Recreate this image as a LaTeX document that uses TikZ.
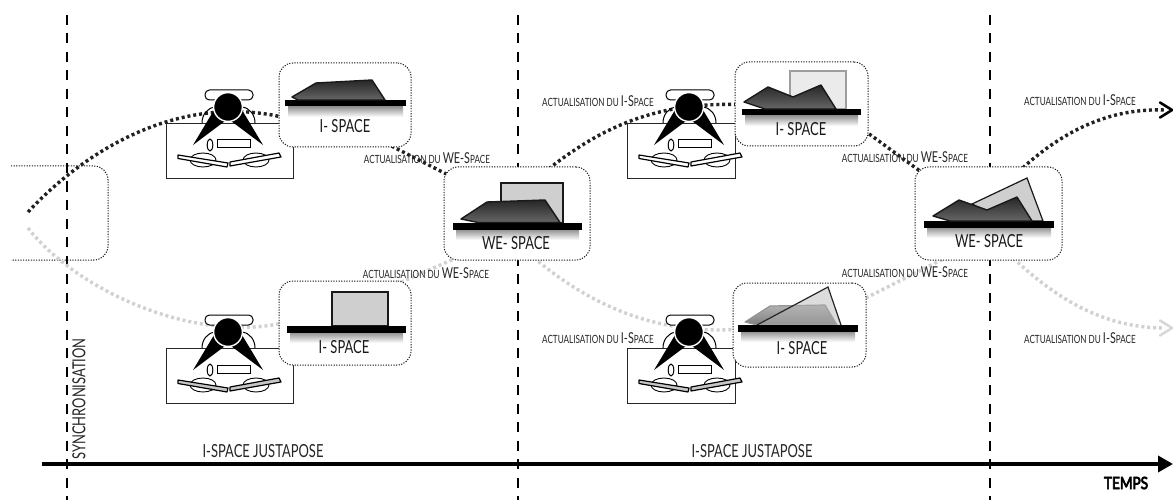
\documentclass[tikz,border=0pt]{standalone}
\usepackage{fontspec}
\setmainfont[FakeStretch=0.72]{Lato}
\newfontfamily\tempsfont[FakeStretch=0.8,FakeBold=4]{Lato}
\usetikzlibrary{arrows.meta,calc}
\definecolor{dotgray}{gray}{0.82}
\definecolor{dotdark}{gray}{0.13}
\tikzset{
  x=1pt,y=-1pt,
  card/.style={draw=black!90,fill=white,dash pattern=on 1.2pt off 1.4pt,line width=1pt,rounded corners=14pt,inner sep=0pt,outer sep=0pt},
  cardline/.style={draw=black!90,dash pattern=on 1.2pt off 1.4pt,line width=1pt},
  timeline/.style={draw=black,line width=1.6pt,dash pattern=on 10pt off 8.5pt},
  darkflow/.style={draw=dotdark,line width=3.4pt,dash pattern=on 3pt off 2.9pt},
  lightflow/.style={draw=dotgray,line width=3.4pt,dash pattern=on 3pt off 2.9pt},
  lab/.style={font=\fontsize{11.3}{11}\selectfont,text=black!85,inner sep=0pt},
  cardtitle/.style={font=\fontsize{18}{18}\selectfont,text=black!90,inner sep=0pt},
  axistext/.style={font=\fontsize{18}{18}\selectfont,text=black!85,inner sep=0pt},
  bar/.style={fill=black,draw=none},
  darkshape/.style={draw=black!90,line width=1.4pt,line join=round,top color=black!85,bottom color=black!60},
  fadeshape/.style={draw=black!42,line width=1.2pt,line join=round,top color=black!30,bottom color=black!50},
  frameback/.style={draw=black!90,line width=1.2pt,fill=black!19},
  ghostback/.style={draw=black!38,line width=1.1pt,fill=black!8},
  iconbox/.style={draw=black!85,line width=0.8pt,fill=none},
}
% person icon: #1 x, #2 y of top-left corner of its box, #3 width of box, #4 fill of the books
\newcommand{\personicon}[4]{%
 \begin{scope}[shift={(#1,#2)}]
  \draw[iconbox] (0,0) rectangle (#3,55);
  \draw[black,line width=1pt,fill=white,rounded corners=4.5pt] (39,-33) rectangle (87,-23);
  \draw[black,line width=1pt] (36,0) .. controls (36,-8) and (41,-15) .. (49,-16);
  \draw[black,line width=1pt] (89,0) .. controls (89,-8) and (84,-15) .. (76,-16);
  \fill[black] (48,-13) -- (27,22) -- (59,-2) -- cycle;
  \fill[black] (76,-13) -- (97,22) -- (65,-2) -- cycle;
  \draw[white,line width=1.4pt,fill=black] (62,-16) circle[radius=14.4];
  \draw[black,line width=1pt,fill=white] (51,17) rectangle (84,25);
  \draw[black,line width=1pt,fill=white] (44,22) ellipse[x radius=2.8,y radius=6];
  \draw[black,line width=0.9pt,fill=white] (37,37) ellipse[x radius=13,y radius=7];
  \draw[black,line width=0.9pt,fill=white] (90,37) ellipse[x radius=13,y radius=7];
  \draw[black,line width=1.2pt,fill=#4,line join=round] (12,32) -- (12,35.5) -- (61,44) -- (62,40) -- cycle;
  \draw[black,line width=1.2pt,fill=#4,line join=round] (115,34) -- (113,30) -- (64,39) -- (64,43) -- cycle;
 \end{scope}}
% base bar with a soft shadow: #1 left, #2 right, #3 top
\newcommand{\basebar}[3]{%
  \shade[top color=black!45,bottom color=white] (#1+3,#3+6) rectangle (#2-3,#3+17);
  \fill[bar] (#1,#3) rectangle (#2,#3+6.5);}
\begin{document}
\begin{tikzpicture}
\useasboundingbox (0,0) rectangle (1173,500);
\fill[white] (0,0) rectangle (1173,500);

% time lines
\coordinate (t1a) at (67,15); \coordinate (t1b) at (67,500);
\coordinate (t2a) at (518,15); \coordinate (t2b) at (518,500);
\coordinate (t3a) at (990,15); \coordinate (t3b) at (990,500);
\draw[timeline] (t1a) -- (t1b);
\draw[timeline] (t2a) -- (t2b);
\draw[timeline] (t3a) -- (t3b);

% axis
\coordinate (axa) at (42,464); \coordinate (axb) at (1173,464);
\draw[black,line width=3.6pt,-{Triangle[length=15pt,width=16pt]}] (axa) -- (axb);

% partial card at the left
\draw[cardline,rounded corners=14pt] (11,166) -- (108,166) -- (108,260) -- (11,260);

% flows
\coordinate (startd) at (28,212);
\coordinate (startl) at (28,228);
\coordinate (c1) at (300,122);
\coordinate (c2) at (360,130);
\coordinate (w1) at (460,181);
\coordinate (w2) at (535,180);
\coordinate (c3) at (750,105);
\coordinate (c4) at (850,120);
\coordinate (w3) at (935,182);
\coordinate (w4) at (1010,180);
\coordinate (endd) at (1165,110);
\coordinate (l1) at (300,318);
\coordinate (l2) at (390,287);
\coordinate (lw1) at (470,252);
\coordinate (lw2) at (525,250);
\coordinate (l3) at (750,328);
\coordinate (l4) at (850,306);
\coordinate (lw3) at (945,258);
\coordinate (lw4) at (1005,250);
\coordinate (endl) at (1165,328);

\draw[darkflow] (startd) .. controls (100,135) and (200,90) .. (c1);
\draw[darkflow] (c2) -- (w1);
\draw[darkflow] (w2) .. controls (600,125) and (660,100) .. (c3);
\draw[darkflow] (c4) -- (w3);
\draw[darkflow] (w4) .. controls (1060,130) and (1110,108) .. (endd);
\draw[black,line width=2.6pt,line cap=round,line join=round] (1160,102.5) -- (1172,110) -- (1160,117.5);

\draw[lightflow] (startl) .. controls (80,295) and (210,350) .. (l1);
\draw[lightflow] (l2) -- (lw1);
\draw[lightflow] (lw2) .. controls (575,295) and (650,340) .. (l3);
\draw[lightflow] (l4) -- (lw3);
\draw[lightflow] (lw4) .. controls (1060,305) and (1110,328) .. (endl);
\draw[dotgray!85!white,line width=2.6pt,line cap=round,line join=round] (1160,320.5) -- (1172,328) -- (1160,335.5);

% persons
\personicon{166}{123}{127}{white}
\personicon{166}{348}{127}{black!22}
\personicon{627}{123}{108}{white}
\personicon{627}{348}{108}{black!22}

% cards
\node[card,minimum width=132pt,minimum height=84pt] (card1) at (345,105) {};
\node[card,minimum width=132pt,minimum height=84pt] (card2) at (345,323) {};
\node[card,minimum width=146pt,minimum height=93pt] (card3) at (517,213.5) {};
\node[card,minimum width=133pt,minimum height=84pt] (card4) at (801.5,104) {};
\node[card,minimum width=133pt,minimum height=84pt] (card5) at (799.5,325) {};
\node[card,minimum width=147pt,minimum height=93pt] (card6) at (988.5,213.5) {};

% card 1
\basebar{285}{406}{100}
\draw[darkshape] (292,97) -- (316,83) -- (372,80) -- (385,100) -- (298,100) -- cycle;
\node[cardtitle] (t1) at (345,126) {I- SPACE};
% card 2
\draw[frameback] (332,292) rectangle (388,326);
\basebar{287}{406}{326}
\node[cardtitle] (t2) at (344,347) {I- SPACE};
% card 3 : WE
\draw[frameback] (501,183) rectangle (563,223);
\basebar{453}{582}{223}
\draw[darkshape] (461,219) -- (487,202) -- (545,200) -- (560,222.5) -- (478,222.5) -- cycle;
\node[cardtitle] (t3) at (516,243) {WE- SPACE};
% card 4
\draw[ghostback] (790,71) rectangle (846,109);
\basebar{742}{861}{109}
\draw[darkshape] (744,102) -- (768,87) -- (793,97) -- (821,85) -- (836,109) -- (765,109) -- cycle;
\node[cardtitle] (t4) at (801,129) {I- SPACE};
% card 5
\draw[fadeshape] (745,322) -- (770,306) -- (825,305) -- (837,325) -- (757,325) -- cycle;
\draw[black!85,line width=1.2pt,fill=black!30,fill opacity=0.45] (757,325) -- (828,287) -- (841,325);
\basebar{738}{858}{325}
\node[cardtitle] (t5) at (802,348) {I- SPACE};
% card 6 : WE
\draw[frameback] (972,204) -- (1027,178) -- (1043,221) -- (1005,221) -- cycle;
\basebar{924}{1054}{221}
\draw[darkshape] (933,216) -- (959,200) -- (987,210) -- (1017,197) -- (1032,221) -- (950,221) -- cycle;
\node[cardtitle] (t6) at (989,241) {WE- SPACE};

% labels
\newcommand{\wesp}{\fontsize{15}{15}\selectfont}
\node[lab] (a1) at (427,158) {ACTUALISATION DU {\wesp WE-S}PACE};
\node[lab] (a2) at (426,273) {ACTUALISATION DU {\wesp WE-S}PACE};
\node[lab] (a3) at (598,101) {ACTUALISATION DU {\wesp I-S}PACE};
\node[lab] (a4) at (598,338) {ACTUALISATION DU {\wesp I-S}PACE};
\node[lab] (a5) at (905,157) {ACTUALISATION DU {\wesp WE-S}PACE};
\node[lab] (a6) at (905,272) {ACTUALISATION DU {\wesp WE-S}PACE};
\node[lab] (a7) at (1080,100) {ACTUALISATION DU {\wesp I-S}PACE};
\node[lab] (a8) at (1080,338) {ACTUALISATION DU {\wesp I-S}PACE};

\node[axistext,rotate=90] (sync) at (79,399) {SYNCHRONISATION};
\node[axistext] (j1) at (263,451) {I-SPACE JUSTAPOSE};
\node[axistext] (j2) at (752,451) {I-SPACE JUSTAPOSE};
\node[inner sep=0pt,font=\tempsfont\fontsize{17}{17}\selectfont] (temps) at (1126,483) {TEMPS};
\end{tikzpicture}
\end{document}
